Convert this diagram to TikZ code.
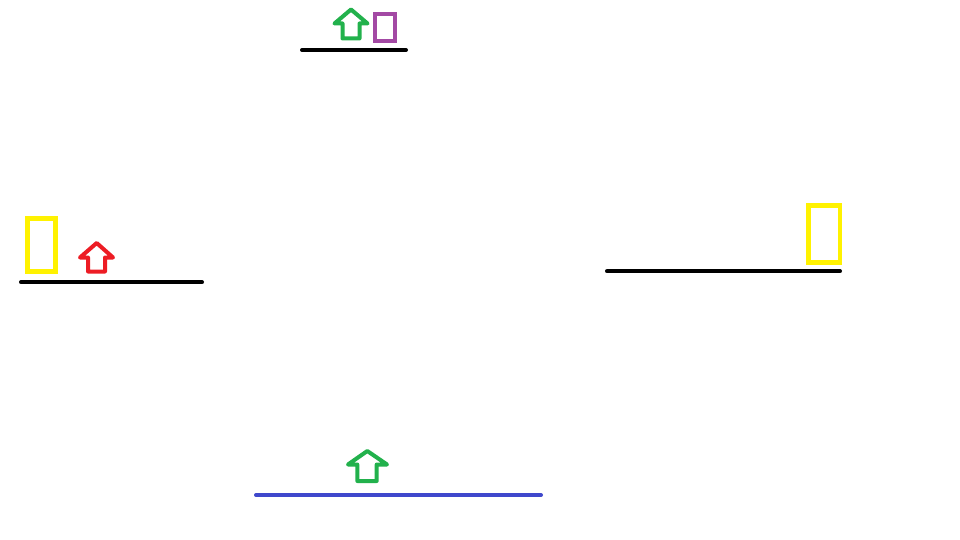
\documentclass[tikz,border=0pt]{standalone}
\definecolor{pgreen}{HTML}{22B14C}
\definecolor{ppurple}{HTML}{A349A4}
\definecolor{pred}{HTML}{ED1C24}
\definecolor{pyellow}{HTML}{FFF200}
\definecolor{pblue}{HTML}{3F48CC}
\tikzset{
  shelf/.style={line width=4pt, line cap=round},
  arrowshape/.style={line width=4pt, line join=round},
  boxshape/.style={line width=4.5pt},
}
\begin{document}
\begin{tikzpicture}[x=1pt,y=-1pt]
\useasboundingbox[fill=white] (0,0) rectangle (960,540);
% shelves
\draw[shelf,black] (302,50) -- (406,50);
\draw[shelf,black] (21,282.3) -- (202,282.3);
\draw[shelf,black] (607,271.3) -- (840,271.3);
\draw[shelf,pblue] (256,495) -- (541,495);
% top green arrow
\draw[arrowshape,pgreen] (351,9.5) -- (367.5,23.5) -- (359.5,23.5) -- (359.5,38.5) -- (342.5,38.5) -- (342.5,23.5) -- (334.5,23.5) -- cycle;
% purple box
\draw[boxshape,ppurple] (375,14) rectangle (395,41);
% left yellow box
\draw[boxshape,pyellow] (27.5,218.5) rectangle (55.5,271.5);
% red arrow
\draw[arrowshape,pred] (96.7,243) -- (113,257.5) -- (105,257.5) -- (105,271.5) -- (88,271.5) -- (88,257.5) -- (80,257.5) -- cycle;
% right yellow box
\draw[boxshape,pyellow] (808.5,205.5) rectangle (840.2,262.3);
% bottom green arrow
\draw[arrowshape,pgreen] (367.3,451) -- (387,464.5) -- (376.7,464.5) -- (376.7,481) -- (357.3,481) -- (357.3,464.5) -- (348,464.5) -- cycle;
\end{tikzpicture}
\end{document}
